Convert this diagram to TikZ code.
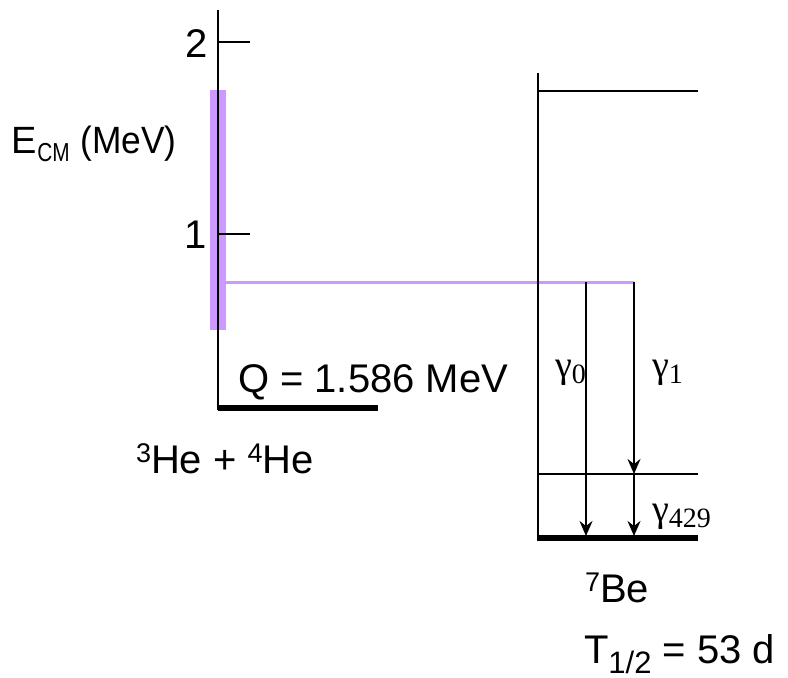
\documentclass[tikz,border=0pt]{standalone}
\usepackage{fontspec}
\setmainfont{Liberation Sans}
\newfontfamily\gfont{Liberation Serif}
\usetikzlibrary{arrows.meta}
\definecolor{lilac}{HTML}{CC99FF}
\newcommand{\supnum}[1]{\raisebox{11pt}{\fontsize{27}{27}\selectfont #1}}
\newcommand{\gsub}[1]{\raisebox{-6pt}{\fontsize{28}{28}\selectfont #1}}
\begin{document}
\begin{tikzpicture}[x=1pt,y=-1pt,
  lbl/.style={inner sep=0pt, outer sep=0pt, font=\fontsize{40}{44}\selectfont},
  glbl/.style={inner sep=0pt, outer sep=0pt, font=\gfont\fontsize{38}{42}\selectfont},
  axisline/.style={line width=2pt, black},
  tickline/.style={line width=1.5pt, black},
  levelline/.style={line width=1.5pt, black},
  groundline/.style={line width=5.5pt, black},
  lilacbar/.style={fill=lilac},
  lilacline/.style={line width=3pt, lilac},
  gammaarrow/.style={line width=2pt, black, -{Stealth[length=15pt,width=13pt,inset=5pt]}}
]
\useasboundingbox (0,0) rectangle (788,678);
% left (entrance channel) side
\fill[lilacbar] (210,90) rectangle (226,330);
\coordinate (axTop) at (218,10);
\coordinate (axBot) at (218,410);
\draw[axisline] (axTop) -- (axBot);
\coordinate (t2a) at (218,42);  \coordinate (t2b) at (250,42);
\coordinate (t1a) at (218,234); \coordinate (t1b) at (250,234);
\draw[tickline] (t2a) -- (t2b);
\draw[tickline] (t1a) -- (t1b);
\coordinate (resL) at (220,282);
\coordinate (resR) at (634,282);
\draw[lilacline] (resL) -- (resR);
\coordinate (qL) at (218,408);
\coordinate (qR) at (378,408);
\draw[groundline] (qL) -- (qR);
% right (7Be) side
\coordinate (beTop) at (538,73);
\coordinate (beBot) at (538,541);
\draw[axisline] (beTop) -- (beBot);
\coordinate (lvTopL) at (538,91);  \coordinate (lvTopR) at (698,91);
\coordinate (lvMidL) at (538,474); \coordinate (lvMidR) at (698,474);
\coordinate (gsL) at (538,538);    \coordinate (gsR) at (698,538);
\draw[levelline] (lvTopL) -- (lvTopR);
\draw[levelline] (lvMidL) -- (lvMidR);
\draw[groundline] (gsL) -- (gsR);
\coordinate (g0s) at (586,282); \coordinate (g0e) at (586,536);
\coordinate (g1s) at (634,282); \coordinate (g1e) at (634,474);
\coordinate (g4s) at (634,474); \coordinate (g4e) at (634,536);
\draw[gammaarrow] (g0s) -- (g0e);
\draw[gammaarrow] (g1s) -- (g1e);
\draw[gammaarrow] (g4s) -- (g4e);
% labels
\node[lbl, anchor=base east] (two) at (208,57) {2};
\node[lbl, anchor=base east] (one) at (207,248) {1};
\node[lbl, anchor=base west, font=\fontsize{38}{42}\selectfont] (ecm) at (12,153)
  {E\raisebox{-8pt}{\fontsize{26}{26}\selectfont\scalebox{0.8}[1]{CM}}\ \scalebox{0.93}[1]{(MeV)}};
\node[lbl, anchor=base west] (qval) at (238,392) {Q = 1.586 MeV};
\node[lbl, anchor=base west] (he) at (136,473) {\supnum{3}He + \supnum{4}He};
\node[lbl, anchor=base west] (be) at (585,602) {\supnum{7}Be};
\node[lbl, anchor=base west] (thalf) at (584,663) {T\raisebox{-10pt}{\fontsize{31}{31}\selectfont 1/2} = 53 d};
\node[glbl, anchor=base west] (gam0) at (555,377) {γ\gsub{0}};
\node[glbl, anchor=base west] (gam1) at (652,377) {γ\gsub{1}};
\node[glbl, anchor=base west] (gam429) at (652,521) {γ\gsub{429}};
\end{tikzpicture}
\end{document}
